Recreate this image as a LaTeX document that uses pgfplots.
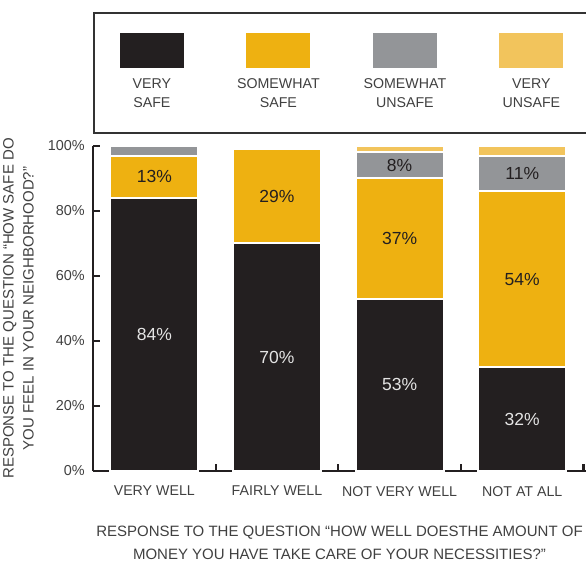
\documentclass[border=0pt]{standalone}
\usepackage{fontspec}
\setmainfont{Liberation Sans}
\usepackage{pgfplots}
\pgfplotsset{compat=1.18}
\usepackage{pgfplotstable}

\definecolor{vsafe}{HTML}{231F20}
\definecolor{ssafe}{HTML}{EEB111}
\definecolor{sunsafe}{HTML}{939598}
\definecolor{vunsafe}{HTML}{F2C45C}
\definecolor{txt}{HTML}{404040}
\definecolor{axl}{HTML}{231F20}
\definecolor{lbllight}{HTML}{E4E4E4}

\pgfplotstableread{
x y lab
0 84 84\%
1 70 70\%
2 53 53\%
3 32 32\%
}\tvsafe
\pgfplotstableread{
x y lab
0 13 13\%
1 29 29\%
2 37 37\%
3 54 54\%
}\tssafe
\pgfplotstableread{
x y lab
0 3 {}
1 0 {}
2 8 8\%
3 11 11\%
}\tsunsafe
\pgfplotstableread{
x y lab
0 0 {}
1 0 {}
2 2 {}
3 3 {}
}\tvunsafe

\newcommand{\legimg}[2]{%
  \fill[#1] (-31pt,0pt) rectangle (31pt,33pt);
  \node[anchor=north, align=center, text width=100pt, inner sep=0pt, fill=none, draw=none,
        text=txt, font=\fontsize{14.2}{19}\selectfont] at (0pt,-11pt) {#2};
  \path (0pt,-45pt);
}

\begin{document}
\begin{tikzpicture}
\begin{axis}[
  scale only axis, width=493pt, height=325pt,
  at={(0pt,0pt)}, anchor=south west,
  ybar stacked, bar width=88pt,
  xmin=-0.5, xmax=3.52, ymin=0, ymax=100,
  clip=false,
  axis x line*=bottom, axis y line*=left,
  axis line style={line width=2.2pt, draw=axl, -},
  /pgf/number format/assume math mode=true,
  xtick={0,1,2,3},
  xticklabels={VERY WELL, FAIRLY WELL, NOT VERY WELL, NOT AT ALL},
  major x tick style={draw=none},
  extra x ticks={0.5,1.5,2.5,3.5},
  extra x tick labels={},
  extra x tick style={major x tick style={draw=axl, line width=2.2pt}, tick align=inside, major tick length=7pt},
  xticklabel style={font=\fontsize{14.2}{16}\selectfont, text=txt, inner sep=0pt, anchor=north, yshift=-15pt},
  ytick={0,20,40,60,80,100},
  yticklabel={\pgfmathprintnumber{\tick}\%},
  yticklabel style={font=\fontsize{14.4}{16}\selectfont, text=txt, inner sep=0pt, anchor=east, xshift=-8pt},
  y tick style={draw=axl, line width=2.2pt},
  tick align=inside, major tick length=7pt,
  xlabel={RESPONSE TO THE QUESTION “HOW WELL DOESTHE AMOUNT OF\\MONEY YOU HAVE TAKE CARE OF YOUR NECESSITIES?”},
  xlabel style={at={(axis description cs:0.5,-0.1692)}, anchor=north, inner sep=0pt, align=center,
    font=\fontsize{15}{23}\selectfont, text=txt},
  ylabel={RESPONSE TO THE QUESTION “HOW SAFE DO\\YOU FEEL IN YOUR NEIGHBORHOOD?”},
  ylabel style={at={(axis description cs:-0.1826,0.5)}, anchor=north, inner sep=0pt, align=center,
    font=\fontsize{15}{20}\selectfont, text=txt},
  legend columns=4,
  legend style={at={(axis description cs:0,1.41231)}, anchor=north west,
    draw=black!80, line width=1.8pt, inner xsep=8pt, inner ysep=20pt,
    /tikz/every even column/.append style={column sep=25.5pt},
    nodes={inner sep=0pt}},
  nodes near coords={\pgfplotspointmeta},
  point meta=explicit symbolic,
  every node near coord/.append style={anchor=center,
    font=\fontsize{17.5}{20}\selectfont, inner sep=0pt},
]
\addplot[fill=vsafe, draw=white, line width=2pt,
  every node near coord/.append style={text=lbllight},
  legend image code/.code={\legimg{vsafe}{VERY\\SAFE}}]
  table[x=x, y=y, meta=lab] {\tvsafe};
\addlegendentry{\hspace*{0pt}}
\addplot[fill=ssafe, draw=white, line width=2pt,
  every node near coord/.append style={text=vsafe},
  legend image code/.code={\legimg{ssafe}{SOMEWHAT\\SAFE}}]
  table[x=x, y=y, meta=lab] {\tssafe};
\addlegendentry{\hspace*{0pt}}
\addplot[fill=sunsafe, draw=white, line width=2pt,
  every node near coord/.append style={text=vsafe},
  legend image code/.code={\legimg{sunsafe}{SOMEWHAT\\UNSAFE}}]
  table[x=x, y=y, meta=lab] {\tsunsafe};
\addlegendentry{\hspace*{0pt}}
\addplot[fill=vunsafe, draw=white, line width=2pt,
  every node near coord/.append style={text=vsafe},
  legend image code/.code={\legimg{vunsafe}{VERY\\UNSAFE}}]
  table[x=x, y=y, meta=lab] {\tvunsafe};
\addlegendentry{\hspace*{0pt}}
\end{axis}
\pgfresetboundingbox
\useasboundingbox (-93pt,-91pt) rectangle (493pt,471pt);
\end{tikzpicture}
\end{document}
